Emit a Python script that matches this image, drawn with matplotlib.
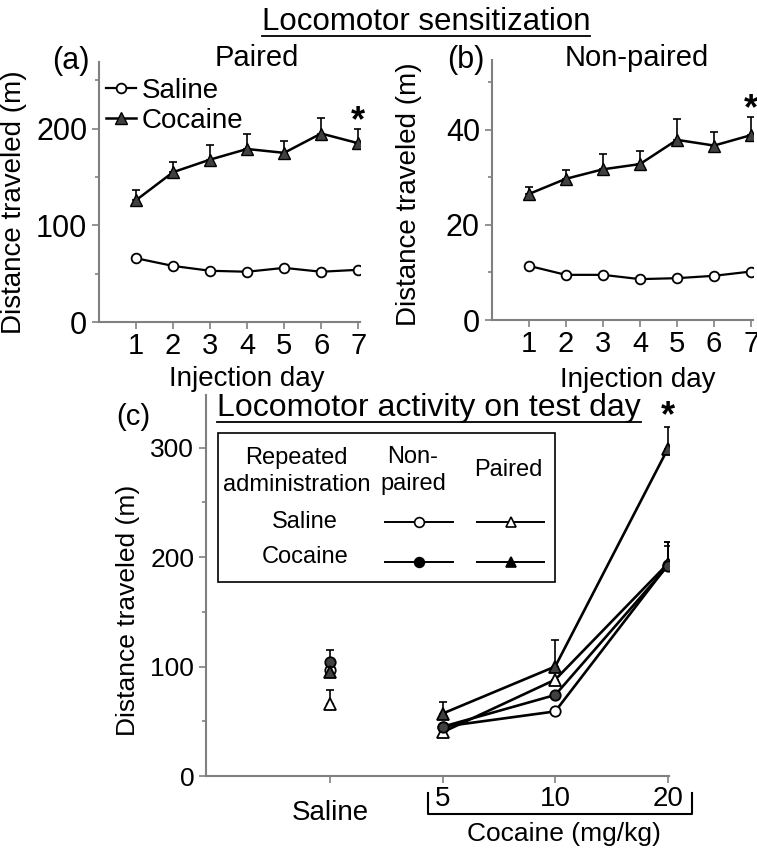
import numpy as np
import matplotlib
matplotlib.use('Agg')
import matplotlib.pyplot as plt
from matplotlib.lines import Line2D
from matplotlib.patches import Rectangle
import matplotlib.transforms as mtransforms

plt.rcParams['font.family'] = ['Liberation Sans', 'DejaVu Sans']

# --- data ---------------------------------------------------------------
days = [1, 2, 3, 4, 5, 6, 7]

# (a) paired group
paired_saline = [66, 58, 53, 52, 56, 52, 54]
paired_cocaine = [126, 155, 168, 179, 175, 195, 185]
paired_cocaine_err = [11, 11, 15, 15, 12, 16, 15]

# (b) non-paired group
nonpaired_saline = [11.4, 9.5, 9.5, 8.6, 8.8, 9.3, 10.2]
nonpaired_cocaine = [26.5, 29.7, 31.7, 32.8, 37.9, 36.7, 38.9]
nonpaired_cocaine_err = [1.4, 1.9, 3.2, 2.8, 4.4, 2.9, 3.9]

# (c) test day: saline, cocaine 5 / 10 / 20 mg/kg
test_labels = ['Saline', '5', '10', '20']
np_saline = [97, 45, 59, 193]
np_saline_err = [0, 0, 0, 17]
np_cocaine = [104, 45, 74, 192]
np_cocaine_err = [11, 0, 0, 22]
p_saline = [66, 40, 88, 194]
p_saline_err = [13, 0, 0, 20]
p_cocaine = [95, 57, 100, 299]
p_cocaine_err = [0, 11, 24, 20]

GRAY = '#808080'
DARK = '#404040'

W, H = 757, 849
fig = plt.figure(figsize=(W / 100, H / 100), dpi=100)


def px_axes(left, right, top, bottom):
    return fig.add_axes([left / W, 1 - bottom / H, (right - left) / W, (bottom - top) / H])


def style_axes(ax, fs):
    for s in ['top', 'right']:
        ax.spines[s].set_visible(False)
    for s in ['left', 'bottom']:
        ax.spines[s].set_color(GRAY)
        ax.spines[s].set_linewidth(1.5)
    ax.tick_params(which='both', color=GRAY, width=1.2, labelsize=fs, labelcolor='black')
    ax.tick_params(which='major', length=5)
    ax.tick_params(which='minor', length=3)


def up_err(err):
    return [np.zeros(len(err)), np.array(err)]


def sensitization_panel(ax, sal, coc, coc_err, ymax, major, minor):
    ax.errorbar(days, coc, yerr=up_err(coc_err), fmt='none', ecolor='black',
                elinewidth=1.2, capsize=3, capthick=1.2, zorder=2)
    l2, = ax.plot(days, coc, '-^', color='black', lw=1.8, ms=8,
                  mfc=DARK, mec='black', zorder=3, label='Cocaine')
    l1, = ax.plot(days, sal, '-o', color='black', lw=1.6, ms=7,
                  mfc='white', mec='black', mew=1.3, zorder=3, label='Saline')
    ax.set_xlim(0, 7.05)
    ax.set_ylim(0, ymax)
    ax.set_xticks(days)
    ax.set_yticks(major)
    ax.set_yticks(minor, minor=True)
    style_axes(ax, 22)
    ax.tick_params(axis='x', labelsize=21, pad=2)
    ax.set_xlabel('Injection day', fontsize=20)
    ax.set_ylabel('Distance traveled (m)', fontsize=20)
    return l1, l2


# --- (a) paired ---------------------------------------------------------
axa = px_axes(99, 360, 62, 322)
l1, l2 = sensitization_panel(axa, paired_saline, paired_cocaine, paired_cocaine_err,
                             269, [0, 100, 200], [50, 150, 250])
axa.xaxis.set_label_coords(0.567, -0.17)
axa.yaxis.set_label_coords(-0.275, 0.46)
axa.legend([l1, l2], ['Saline', 'Cocaine'], loc='upper left', bbox_to_anchor=(0.025, 0.94),
           frameon=False, fontsize=20, handlelength=1.1, handletextpad=0.2,
           labelspacing=0.15, borderpad=0, borderaxespad=0)
axa.text(7, 207, '*', ha='center', va='center', fontsize=26, fontweight='bold')

# --- (b) non-paired -----------------------------------------------------
axb = px_axes(491.7, 753, 60, 320)
sensitization_panel(axb, nonpaired_saline, nonpaired_cocaine, nonpaired_cocaine_err,
                    54.7, [0, 20, 40], [10, 30, 50])
axb.xaxis.set_label_coords(0.559, -0.18)
axb.yaxis.set_label_coords(-0.268, 0.485)
axb.text(7, 44.2, '*', ha='center', va='center', fontsize=26, fontweight='bold')

# --- (c) test day -------------------------------------------------------
axc = px_axes(206, 669, 395, 776)
pos = np.arange(len(test_labels))
series = [
    (np_saline, np_saline_err, 'o', 'white', 7.5),
    (p_saline, p_saline_err, '^', 'white', 8.5),
    (np_cocaine, np_cocaine_err, 'o', DARK, 7.5),
    (p_cocaine, p_cocaine_err, '^', DARK, 8.5),
]
for vals, err, mk, fc, ms in series:
    axc.errorbar(pos, vals, yerr=up_err(err), fmt='none', ecolor='black',
                 elinewidth=1.2, capsize=3, capthick=1.2, zorder=2)
    axc.plot(pos[1:], vals[1:], '-', color='black', lw=1.9, zorder=2)
    axc.plot(pos, vals, linestyle='none', marker=mk, ms=ms, mfc=fc, mec='black',
             mew=1.3, zorder=3)
axc.set_xlim(-1.1, 3.01)
axc.set_ylim(0, 348)
axc.set_yticks([0, 100, 200, 300])
axc.set_yticks([50, 150, 250], minor=True)
axc.set_xticks(pos[1:], test_labels[1:])
axc.set_xticks([pos[0]], [test_labels[0]], minor=True)
style_axes(axc, 19)
axc.tick_params(axis='x', which='both', length=5, labelsize=20)
axc.tick_params(axis='x', which='major', pad=2)
axc.tick_params(axis='x', which='minor', pad=12)
axc.set_ylabel('Distance traveled (m)', fontsize=19)
axc.yaxis.set_label_coords(-0.143, 0.436)
axc.text(3, 328, '*', ha='center', va='center', fontsize=26, fontweight='bold')

# bracket under the cocaine doses
btr = mtransforms.blended_transform_factory(axc.transData, axc.transAxes)
axc.add_line(Line2D([0.87, 0.87, 3.21, 3.21], [-0.045, -0.1, -0.1, -0.045],
                    transform=btr, color='black', lw=1.5, clip_on=False))
axc.text(2.08, -0.152, 'Cocaine (mg/kg)', transform=btr, ha='center', va='center',
         fontsize=19)

# legend table of panel (c)
axc.add_patch(Rectangle((0.026, 0.509), 0.728, 0.391, transform=axc.transAxes,
                        fill=False, edgecolor='black', lw=1.2, zorder=4))
lfs = 17
axc.text(0.195, 0.8, 'Repeated\nadministration', transform=axc.transAxes,
         ha='center', va='center', fontsize=lfs, linespacing=1.3)
axc.text(0.447, 0.802, 'Non-\npaired', transform=axc.transAxes,
         ha='center', va='center', fontsize=lfs, linespacing=1.3)
axc.text(0.652, 0.803, 'Paired', transform=axc.transAxes,
         ha='center', va='center', fontsize=lfs)
axc.text(0.214, 0.667, 'Saline', transform=axc.transAxes,
         ha='center', va='center', fontsize=lfs)
axc.text(0.214, 0.5755, 'Cocaine', transform=axc.transAxes,
         ha='center', va='center', fontsize=lfs)
legend_rows = [
    (0.667, 0.460, 'o', 'white', 7), (0.667, 0.658, '^', 'white', 7.5),
    (0.5625, 0.460, 'o', 'black', 7), (0.5625, 0.658, '^', 'black', 7.5),
]
for y, xm, mk, fc, ms in legend_rows:
    axc.add_line(Line2D([xm - 0.073, xm + 0.073], [y, y], transform=axc.transAxes,
                        color='black', lw=1.4))
    axc.add_line(Line2D([xm], [y], transform=axc.transAxes, marker=mk, ms=ms,
                        mfc=fc, mec='black', mew=1.2, linestyle='none'))

# --- titles and panel letters ------------------------------------------
def ftext(x, y, s, fs, **kw):
    return fig.text(x / W, 1 - y / H, s, fontsize=fs, ha='center', va='center', **kw)


t1 = ftext(426, 22, 'Locomotor sensitization', 22.5)
ftext(257, 58, 'Paired', 21)
ftext(637, 58, 'Non-paired', 21)
ftext(71, 61, '(a)', 22)
ftext(466, 60, '(b)', 22)
ftext(133, 417, '(c)', 21)
t2 = ftext(429, 408, 'Locomotor activity on test day', 23)

fig.canvas.draw()
inv = fig.transFigure.inverted()
for t in (t1, t2):
    bb = t.get_window_extent()
    (x0, y0), (x1, _) = inv.transform([(bb.x0, bb.y0 + 1), (bb.x1, bb.y0)])
    fig.add_artist(Line2D([x0, x1], [y0, y0], transform=fig.transFigure,
                          color='black', lw=1.3))

fig.savefig('out.png', dpi=100)
